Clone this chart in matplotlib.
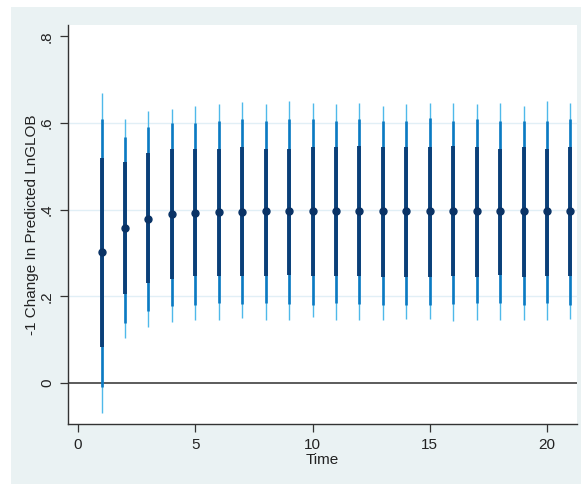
import matplotlib
matplotlib.use("Agg")
import matplotlib.pyplot as plt
from matplotlib.patches import Rectangle

time = list(range(1, 22))
point = [0.302, 0.358, 0.378, 0.390, 0.392, 0.395, 0.395, 0.396, 0.396, 0.396,
         0.396, 0.396, 0.396, 0.396, 0.396, 0.396, 0.396, 0.396, 0.396, 0.396, 0.396]
dark_hi = [0.520, 0.509, 0.531, 0.539, 0.541, 0.541, 0.544, 0.541, 0.541, 0.544,
           0.544, 0.547, 0.544, 0.544, 0.544, 0.547, 0.544, 0.541, 0.544, 0.541, 0.544]
dark_lo = [0.084, 0.206, 0.231, 0.241, 0.246, 0.246, 0.246, 0.246, 0.250, 0.246,
           0.246, 0.246, 0.244, 0.244, 0.244, 0.246, 0.244, 0.249, 0.244, 0.246, 0.246]
mid_hi = [0.609, 0.567, 0.591, 0.600, 0.600, 0.605, 0.609, 0.605, 0.609, 0.609,
          0.605, 0.609, 0.605, 0.605, 0.611, 0.604, 0.610, 0.604, 0.605, 0.605, 0.610]
mid_lo = [-0.009, 0.139, 0.167, 0.177, 0.179, 0.185, 0.182, 0.185, 0.182, 0.179,
          0.185, 0.182, 0.179, 0.179, 0.179, 0.182, 0.185, 0.185, 0.179, 0.185, 0.179]
thin_hi = [0.670, 0.609, 0.627, 0.633, 0.640, 0.643, 0.648, 0.643, 0.651, 0.646,
           0.643, 0.647, 0.640, 0.644, 0.647, 0.647, 0.644, 0.647, 0.638, 0.650, 0.647]
thin_lo = [-0.069, 0.104, 0.129, 0.140, 0.145, 0.145, 0.149, 0.146, 0.145, 0.152,
           0.146, 0.146, 0.146, 0.148, 0.148, 0.142, 0.145, 0.145, 0.145, 0.145, 0.148]

xticks = [0, 5, 10, 15, 20]
yticks = [0, 0.2, 0.4, 0.6, 0.8]
yticklabels = ["0", ".2", ".4", ".6", ".8"]

plt.rcParams['font.family'] = ['Liberation Sans', 'DejaVu Sans']

W, H = 581, 484
fig = plt.figure(figsize=(W / 100, H / 100), dpi=100, facecolor='white')
bg = Rectangle((11 / W, 0), 1 - 11 / W, 1 - 7 / H,
               transform=fig.transFigure, facecolor='#eaf2f3',
               edgecolor='none', zorder=-10)
fig.add_artist(bg)
ax = fig.add_axes([68 / W, 60 / H, (577 - 68) / W, (424 - 25) / H])
ax.set_zorder(1)
ax.set_facecolor('white')

ax.set_xlim(-0.43, 21.28)
ax.set_ylim(-0.0946, 0.826)

ax.set_yticks(yticks)
ax.set_yticklabels(yticklabels, rotation=90, va='center')
ax.set_xticks(xticks)
ax.grid(axis='y', color='#e1eff6', linewidth=1.0, zorder=0)
ax.get_ygridlines()[-1].set_visible(False)
ax.get_ygridlines()[0].set_visible(False)
ax.set_axisbelow(True)

ax.axhline(0, color='#404040', linewidth=1.2, zorder=1)

ax.vlines(time, thin_lo, thin_hi, color='#4fb9ea', linewidth=1.0, zorder=2)
ax.vlines(time, mid_lo, mid_hi, color='#0b7ac2', linewidth=1.9, zorder=3)
ax.vlines(time, dark_lo, dark_hi, color='#0a3f78', linewidth=2.8, zorder=4)
ax.plot(time, point, 'o', color='#0a3366', markersize=5.0, zorder=5)

for s in ['top', 'right']:
    ax.spines[s].set_visible(False)
for s in ['left', 'bottom']:
    ax.spines[s].set_color('#333333')
    ax.spines[s].set_linewidth(1.0)

ax.tick_params(axis='both', colors='#333333', labelcolor='#222222',
               labelsize=11, length=6, width=0.9, direction='out')
ax.tick_params(axis='y', pad=4)
ax.tick_params(axis='x', pad=4)

ax.set_xlabel('Time', fontsize=11, color='#222222', labelpad=1)
ax.set_ylabel('-1 Change In Predicted LnGLOB', fontsize=11, color='#222222', labelpad=1)

fig.savefig('out.png', dpi=100, facecolor='white')
